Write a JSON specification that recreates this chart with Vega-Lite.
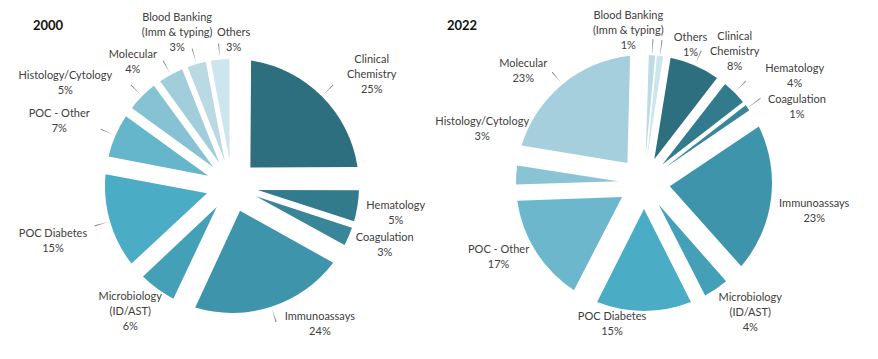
{
  "$schema": "https://vega.github.io/schema/vega-lite/v6.json",
  "padding": {"top": 8, "left": 0, "right": 0, "bottom": 0},
  "background": "white",
  "spacing": 0,
  "bounds": "flush",
  "config": {
    "view": {"stroke": null},
    "text": {"font": "Lato", "fontSize": 11, "lineHeight": 15, "color": "#404040", "lineBreak": "\n", "baseline": "middle", "align": "center", "radius": 100},
    "title": {"font": "Lato", "fontSize": 13, "fontWeight": "bold", "color": "#111111", "anchor": "start", "frame": "group"}
  },
  "datasets": {
    "d2000": [
      {"i": 1, "cat": "Clinical Chemistry", "label": "Clinical\nChemistry\n25%", "value": 25},
      {"i": 2, "cat": "Hematology", "label": "Hematology\n5%", "value": 5},
      {"i": 3, "cat": "Coagulation", "label": "Coagulation\n3%", "value": 3},
      {"i": 4, "cat": "Immunoassays", "label": "Immunoassays\n24%", "value": 24},
      {"i": 5, "cat": "Microbiology", "label": "Microbiology\n(ID/AST)\n6%", "value": 6},
      {"i": 6, "cat": "POC Diabetes", "label": "POC Diabetes\n15%", "value": 15},
      {"i": 7, "cat": "POC - Other", "label": "POC - Other\n7%", "value": 7},
      {"i": 8, "cat": "Histology/Cytology", "label": "Histology/Cytology\n5%", "value": 5},
      {"i": 9, "cat": "Molecular", "label": "Molecular\n4%", "value": 4},
      {"i": 10, "cat": "Blood Banking", "label": "Blood Banking\n(Imm & typing)\n3%", "value": 3},
      {"i": 11, "cat": "Others", "label": "Others\n3%", "value": 3}
    ],
    "d2022": [
      {"i": 1, "cat": "Clinical Chemistry", "label": "Clinical\nChemistry\n8%", "value": 8},
      {"i": 2, "cat": "Hematology", "label": "Hematology\n4%", "value": 4},
      {"i": 3, "cat": "Coagulation", "label": "Coagulation\n1%", "value": 1},
      {"i": 4, "cat": "Immunoassays", "label": "Immunoassays\n23%", "value": 23},
      {"i": 5, "cat": "Microbiology", "label": "Microbiology\n(ID/AST)\n4%", "value": 4},
      {"i": 6, "cat": "POC Diabetes", "label": "POC Diabetes\n15%", "value": 15},
      {"i": 7, "cat": "POC - Other", "label": "POC - Other\n17%", "value": 17},
      {"i": 8, "cat": "Histology/Cytology", "label": "Histology/Cytology\n3%", "value": 3},
      {"i": 9, "cat": "Molecular", "label": "Molecular\n23%", "value": 23},
      {"i": 10, "cat": "Blood Banking", "label": "Blood Banking\n(Imm & typing)\n1%", "value": 1},
      {"i": 11, "cat": "Others", "label": "Others\n1%", "value": 1}
    ]
  },
  "resolve": {"scale": {"theta": "independent", "color": "independent"}},
  "hconcat": [
    {
      "width": 464,
      "height": 320,
      "title": {"text": "2000", "dx": 33, "offset": -25},
      "data": {"name": "d2000"},
      "encoding": {
        "theta": {"field": "value", "type": "quantitative", "stack": true, "scale": {"domain": [0, 100], "range": [0, 6.2832]}},
        "order": {"field": "i", "type": "quantitative"},
        "detail": {"field": "cat", "type": "nominal"}
      },
      "layer": [
        {
          "mark": {"type": "arc", "innerRadius": 26, "outerRadius": 127, "padAngle": {"expr": "2*asin(27*sin(datum.value*PI/100)/129.7)"}},
          "encoding": {
            "color": {"field": "cat", "type": "nominal", "legend": null, "scale": {"domain": ["Clinical Chemistry", "Hematology", "Coagulation", "Immunoassays", "Microbiology", "POC Diabetes", "POC - Other", "Histology/Cytology", "Molecular", "Blood Banking", "Others"], "range": ["#2e6f7f", "#317b8c", "#388698", "#3e95ab", "#43a0b6", "#4aacc5", "#66b6cb", "#86c2d3", "#a2cedb", "#b9d9e3", "#cde5ec"]}}
          }
        },
        {
          "mark": {"type": "arc", "color": "#8a8a8a", "innerRadius": 129, "outerRadius": 143, "padAngle": {"expr": "2*asin(143*sin(datum.value*PI/100 - 0.004)/192.6)"}},
          "encoding": {
            "opacity": {"condition": {"test": "indexof(['Clinical Chemistry','Immunoassays','POC Diabetes','POC - Other','Histology/Cytology','Molecular','Blood Banking','Others'], datum.cat) >= 0", "value": 1}, "value": 0}
          }
        },
        {"mark": {"type": "text", "dx": 69, "dy": -55}, "encoding": {"text": {"condition": {"test": "datum.cat === 'Clinical Chemistry'", "field": "label", "type": "nominal"}, "value": ""}}},
        {"mark": {"type": "text", "dx": 65, "dy": 4}, "encoding": {"text": {"condition": {"test": "datum.cat === 'Hematology'", "field": "label", "type": "nominal"}, "value": ""}}},
        {"mark": {"type": "text", "dx": 61, "dy": 12}, "encoding": {"text": {"condition": {"test": "datum.cat === 'Coagulation'", "field": "label", "type": "nominal"}, "value": ""}}},
        {"mark": {"type": "text", "dx": 57, "dy": 36}, "encoding": {"text": {"condition": {"test": "datum.cat === 'Immunoassays'", "field": "label", "type": "nominal"}, "value": ""}}},
        {"mark": {"type": "text", "dx": -43, "dy": 30}, "encoding": {"text": {"condition": {"test": "datum.cat === 'Microbiology'", "field": "label", "type": "nominal"}, "value": ""}}},
        {"mark": {"type": "text", "dx": -83, "dy": 20}, "encoding": {"text": {"condition": {"test": "datum.cat === 'POC Diabetes'", "field": "label", "type": "nominal"}, "value": ""}}},
        {"mark": {"type": "text", "dx": -81, "dy": -32}, "encoding": {"text": {"condition": {"test": "datum.cat === 'POC - Other'", "field": "label", "type": "nominal"}, "value": ""}}},
        {"mark": {"type": "text", "dx": -96, "dy": -39}, "encoding": {"text": {"condition": {"test": "datum.cat === 'Histology/Cytology'", "field": "label", "type": "nominal"}, "value": ""}}},
        {"mark": {"type": "text", "dx": -51, "dy": -43}, "encoding": {"text": {"condition": {"test": "datum.cat === 'Molecular'", "field": "label", "type": "nominal"}, "value": ""}}},
        {"mark": {"type": "text", "dx": -27, "dy": -72}, "encoding": {"text": {"condition": {"test": "datum.cat === 'Blood Banking'", "field": "label", "type": "nominal"}, "value": ""}}},
        {"mark": {"type": "text", "dx": 11, "dy": -53}, "encoding": {"text": {"condition": {"test": "datum.cat === 'Others'", "field": "label", "type": "nominal"}, "value": ""}}}
      ]
    },
    {
      "width": 360,
      "height": 314,
      "title": {"text": "2022", "dx": -17, "offset": -23},
      "data": {"name": "d2022"},
      "encoding": {
        "theta": {"field": "value", "type": "quantitative", "stack": true, "scale": {"domain": [0, 100], "range": [0.157, 6.440]}},
        "order": {"field": "i", "type": "quantitative"},
        "detail": {"field": "cat", "type": "nominal"}
      },
      "layer": [
        {
          "mark": {"type": "arc", "innerRadius": 26, "outerRadius": 128, "padAngle": {"expr": "2*asin(27*sin(datum.value*PI/100)/130.6)"}},
          "encoding": {
            "color": {"field": "cat", "type": "nominal", "legend": null, "scale": {"domain": ["Clinical Chemistry", "Hematology", "Coagulation", "Immunoassays", "Microbiology", "POC Diabetes", "POC - Other", "Histology/Cytology", "Molecular", "Blood Banking", "Others"], "range": ["#2e6f7f", "#317b8c", "#388698", "#3e95ab", "#43a0b6", "#4aacc5", "#6db7cc", "#8ac3d4", "#a5cfdc", "#bcdbe5", "#cde5ec"]}}
          }
        },
        {
          "mark": {"type": "arc", "color": "#8a8a8a", "innerRadius": 130, "outerRadius": 144, "padAngle": {"expr": "2*asin(144*sin(datum.value*PI/100 - 0.004)/194.0)"}},
          "encoding": {
            "opacity": {"condition": {"test": "indexof(['Clinical Chemistry','Hematology','Coagulation','Molecular','Blood Banking','Others'], datum.cat) >= 0", "value": 1}, "value": 0}
          }
        },
        {"mark": {"type": "text", "dx": 51, "dy": -54}, "encoding": {"text": {"condition": {"test": "datum.cat === 'Clinical Chemistry'", "field": "label", "type": "nominal"}, "value": ""}}},
        {"mark": {"type": "text", "dx": 80, "dy": -43}, "encoding": {"text": {"condition": {"test": "datum.cat === 'Hematology'", "field": "label", "type": "nominal"}, "value": ""}}},
        {"mark": {"type": "text", "dx": 72, "dy": -24}, "encoding": {"text": {"condition": {"test": "datum.cat === 'Coagulation'", "field": "label", "type": "nominal"}, "value": ""}}},
        {"mark": {"type": "text", "dx": 71, "dy": 8}, "encoding": {"text": {"condition": {"test": "datum.cat === 'Immunoassays'", "field": "label", "type": "nominal"}, "value": ""}}},
        {"mark": {"type": "text", "dx": 50, "dy": 32}, "encoding": {"text": {"condition": {"test": "datum.cat === 'Microbiology'", "field": "label", "type": "nominal"}, "value": ""}}},
        {"mark": {"type": "text", "dx": -32, "dy": 34}, "encoding": {"text": {"condition": {"test": "datum.cat === 'POC Diabetes'", "field": "label", "type": "nominal"}, "value": ""}}},
        {"mark": {"type": "text", "dx": -61, "dy": 13}, "encoding": {"text": {"condition": {"test": "datum.cat === 'POC - Other'", "field": "label", "type": "nominal"}, "value": ""}}},
        {"mark": {"type": "text", "dx": -62, "dy": -55}, "encoding": {"text": {"condition": {"test": "datum.cat === 'Histology/Cytology'", "field": "label", "type": "nominal"}, "value": ""}}},
        {"mark": {"type": "text", "dx": -57, "dy": -42}, "encoding": {"text": {"condition": {"test": "datum.cat === 'Molecular'", "field": "label", "type": "nominal"}, "value": ""}}},
        {"mark": {"type": "text", "dx": -22, "dy": -67}, "encoding": {"text": {"condition": {"test": "datum.cat === 'Blood Banking'", "field": "label", "type": "nominal"}, "value": ""}}},
        {"mark": {"type": "text", "dx": 34, "dy": -46}, "encoding": {"text": {"condition": {"test": "datum.cat === 'Others'", "field": "label", "type": "nominal"}, "value": ""}}}
      ]
    }
  ]
}
